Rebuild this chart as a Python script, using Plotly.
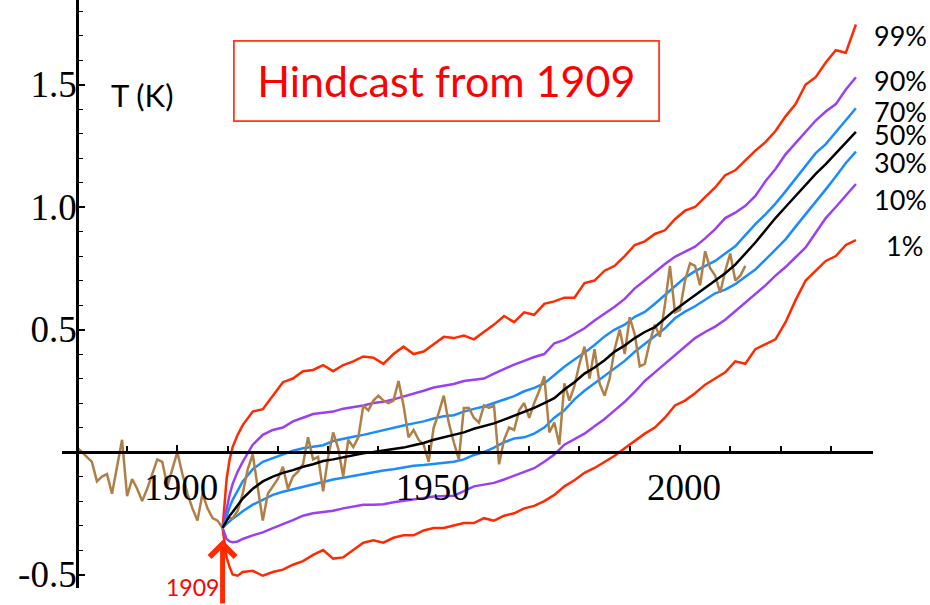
import plotly.graph_objects as go

# ---------------- data ----------------
obs_start = 1880
obs_values = [
    0.02, 0.00, -0.02, -0.04, -0.12, -0.10, -0.09, -0.17, -0.06, 0.05,
    -0.18, -0.11, -0.15, -0.20, -0.15, -0.09, -0.03, -0.04, -0.14, -0.07,
    0.00, -0.09, -0.17, -0.23, -0.28, -0.17, -0.23, -0.27, -0.28, -0.31,
    -0.27, -0.27, -0.24, -0.17, -0.07, -0.01, -0.15, -0.28, -0.17, -0.14,
    -0.11, -0.06, -0.15, -0.10, -0.08, -0.05, 0.06, -0.03, -0.02, -0.16,
    -0.02, 0.08, 0.015, -0.10, 0.05, 0.02, 0.06, 0.19, 0.17, 0.21,
    0.23, 0.21, 0.20, 0.21, 0.29, 0.19, 0.06, 0.09, 0.05, 0.03,
    -0.04, 0.10, 0.16, 0.23, 0.12, 0.04, -0.03, 0.18, 0.18, 0.14,
    0.12, 0.19, 0.18, 0.19, -0.05, 0.05, 0.10, 0.09, 0.17, 0.20,
    0.14, 0.20, 0.25, 0.31, 0.08, 0.12, 0.03, 0.28, 0.21, 0.27,
    0.36, 0.43, 0.30, 0.42, 0.28, 0.23, 0.30, 0.42, 0.50, 0.40,
    0.55, 0.48, 0.35, 0.36, 0.45, 0.52, 0.47, 0.60, 0.76, 0.57,
    0.58, 0.70, 0.77, 0.76, 0.68, 0.82, 0.75, 0.72, 0.65, 0.74,
    0.81, 0.70, 0.72, 0.76,
]
obs_years = list(range(obs_start, obs_start + len(obs_values)))

proj_years = [1909, 1909.4, 1909.8, 1910.4, 1911, 1912, 1913] + list(range(1915, 2036, 2))

p99 = [-0.31, -0.20, -0.11, -0.03, 0.02, 0.07, 0.11,
       0.165, 0.175, 0.23, 0.285, 0.30, 0.33, 0.335, 0.355, 0.33, 0.355,
       0.37, 0.39, 0.385, 0.36, 0.40, 0.43, 0.40, 0.41, 0.44, 0.47,
       0.465, 0.475, 0.46, 0.49, 0.52, 0.555, 0.53, 0.57, 0.56, 0.605,
       0.615, 0.63, 0.63, 0.69, 0.70, 0.74, 0.76, 0.80, 0.845, 0.86,
       0.89, 0.905, 0.95, 0.985, 1.00, 1.04, 1.08, 1.13, 1.15, 1.19,
       1.23, 1.265, 1.31, 1.37, 1.42, 1.50, 1.53, 1.59, 1.64, 1.63, 1.745]
p90 = [-0.31, -0.27, -0.23, -0.175, -0.13, -0.08, -0.04,
       0.03, 0.07, 0.09, 0.10, 0.125, 0.14, 0.155, 0.16, 0.165, 0.177,
       0.183, 0.19, 0.20, 0.205, 0.215, 0.226, 0.24, 0.25, 0.263, 0.27,
       0.278, 0.29, 0.296, 0.30, 0.32, 0.34, 0.357, 0.372, 0.388, 0.40,
       0.444, 0.458, 0.48, 0.505, 0.537, 0.565, 0.593, 0.625, 0.668, 0.70,
       0.735, 0.767, 0.797, 0.818, 0.838, 0.872, 0.91, 0.955, 0.977, 1.005,
       1.045, 1.105, 1.155, 1.215, 1.26, 1.305, 1.353, 1.39, 1.42, 1.48, 1.53]
p70 = [-0.31, -0.285, -0.26, -0.225, -0.195, -0.155, -0.12,
       -0.07, -0.04, -0.025, -0.01, 0.005, 0.015, 0.022, 0.028, 0.045, 0.055,
       0.062, 0.07, 0.08, 0.09, 0.098, 0.108, 0.117, 0.125, 0.137, 0.146,
       0.15, 0.165, 0.176, 0.186, 0.20, 0.213, 0.228, 0.248, 0.262, 0.28,
       0.314, 0.348, 0.378, 0.405, 0.437, 0.472, 0.50, 0.52, 0.552, 0.572,
       0.605, 0.64, 0.675, 0.712, 0.738, 0.76, 0.78, 0.81, 0.84, 0.885,
       0.93, 0.97, 1.014, 1.064, 1.115, 1.17, 1.22, 1.257, 1.305, 1.355, 1.403]
p50 = [-0.31, -0.295, -0.28, -0.26, -0.245, -0.215, -0.19,
       -0.15, -0.12, -0.10, -0.085, -0.074, -0.06, -0.05, -0.037, -0.03, -0.022,
       -0.012, -0.005, 0.0, 0.005, 0.01, 0.018, 0.028, 0.037, 0.05, 0.06,
       0.07, 0.08, 0.095, 0.105, 0.117, 0.132, 0.148, 0.165, 0.18, 0.20,
       0.22, 0.255, 0.285, 0.32, 0.345, 0.375, 0.41, 0.435, 0.465, 0.49,
       0.51, 0.545, 0.58, 0.61, 0.64, 0.67, 0.70, 0.73, 0.765, 0.81,
       0.855, 0.905, 0.955, 1.00, 1.045, 1.09, 1.135, 1.175, 1.22, 1.265, 1.307]
p30 = [-0.31, -0.30, -0.293, -0.283, -0.272, -0.258, -0.242,
       -0.215, -0.195, -0.175, -0.162, -0.152, -0.142, -0.13, -0.121, -0.112, -0.105,
       -0.097, -0.09, -0.082, -0.075, -0.07, -0.062, -0.056, -0.053, -0.048, -0.044,
       -0.04, -0.03, -0.012, 0.0, 0.018, 0.04, 0.055, 0.06, 0.075, 0.10,
       0.14, 0.17, 0.215, 0.25, 0.28, 0.31, 0.343, 0.372, 0.409, 0.44,
       0.472, 0.505, 0.546, 0.573, 0.595, 0.62, 0.648, 0.663, 0.685, 0.715,
       0.745, 0.785, 0.825, 0.868, 0.92, 0.97, 1.02, 1.072, 1.125, 1.18, 1.226]
p10 = [-0.31, -0.335, -0.355, -0.365, -0.368, -0.365, -0.355,
       -0.34, -0.328, -0.311, -0.296, -0.278, -0.26, -0.25, -0.245, -0.24, -0.23,
       -0.222, -0.215, -0.215, -0.213, -0.205, -0.20, -0.195, -0.188, -0.182, -0.18,
       -0.178, -0.16, -0.14, -0.133, -0.126, -0.112, -0.097, -0.08, -0.066, -0.04,
       -0.01, 0.03, 0.052, 0.075, 0.105, 0.135, 0.17, 0.205, 0.245, 0.29,
       0.325, 0.36, 0.395, 0.43, 0.465, 0.49, 0.512, 0.54, 0.575, 0.61,
       0.642, 0.68, 0.72, 0.755, 0.795, 0.835, 0.895, 0.955, 1.0, 1.048, 1.094]
p01 = [-0.31, -0.37, -0.43, -0.47, -0.50, -0.505, -0.49,
       -0.485, -0.505, -0.49, -0.48, -0.46, -0.445, -0.42, -0.40, -0.435, -0.43,
       -0.40, -0.37, -0.36, -0.37, -0.35, -0.34, -0.34, -0.32, -0.31, -0.31,
       -0.30, -0.29, -0.29, -0.27, -0.28, -0.26, -0.25, -0.23, -0.22, -0.20,
       -0.175, -0.14, -0.115, -0.085, -0.065, -0.04, -0.015, 0.015, 0.045, 0.075,
       0.10, 0.14, 0.19, 0.21, 0.24, 0.275, 0.30, 0.325, 0.37, 0.36,
       0.42, 0.44, 0.46, 0.53, 0.62, 0.70, 0.74, 0.78, 0.80, 0.845, 0.865]

curve_labels = ["99%", "90%", "70%", "50%", "30%", "10%", "1%"]
x_ticks = [1900, 1950, 2000]
y_ticks = [-0.5, 0.5, 1.0, 1.5]
y_ticktext = ["-0.5", "0.5", "1.0", "1.5"]
start_year = 1909

# ---------------- styles / layout constants ----------------
RED = "#ff2a00"
PURPLE = "#9a40f2"
BLUE = "#1a8cff"
BLACK = "#000000"
BROWN = "#b07f45"

X_RANGE = [1877.05, 2038.4]
Y_RANGE = [-0.555, 1.845]
LABEL_Y = [1.702, 1.518, 1.388, 1.294, 1.180, 1.029, 0.845]

fig = go.Figure()

series = [
    (p01, RED), (p99, RED), (p10, PURPLE), (p90, PURPLE),
    (p30, BLUE), (p70, BLUE),
]
for vals, col in series:
    fig.add_trace(go.Scatter(x=proj_years, y=vals, mode="lines",
                             line=dict(color=col, width=2.5), hoverinfo="skip"))
fig.add_trace(go.Scatter(x=obs_years, y=obs_values, mode="lines",
                         line=dict(color=BROWN, width=2.5), hoverinfo="skip"))
fig.add_trace(go.Scatter(x=proj_years, y=p50, mode="lines",
                         line=dict(color=BLACK, width=2.5), hoverinfo="skip"))

xpos = (0 - Y_RANGE[0]) / (Y_RANGE[1] - Y_RANGE[0])
ypos = (obs_start - X_RANGE[0]) / (X_RANGE[1] - X_RANGE[0])

serif = dict(family="Liberation Serif, Times New Roman, serif", size=37, color="black")
sans = "Lato, Open Sans, sans-serif"

fig.update_layout(
    width=930, height=605,
    margin=dict(l=62, r=57, t=0, b=17),
    paper_bgcolor="white", plot_bgcolor="white",
    showlegend=False,
    xaxis=dict(range=X_RANGE, showgrid=False, zeroline=False,
               showline=True, linecolor="black", linewidth=2.5,
               anchor="free", position=xpos,
               tickmode="array", tickvals=x_ticks, ticktext=[str(v) for v in x_ticks],
               ticks="inside", ticklen=6, tickwidth=1.5, tickcolor="black",
               tickfont=serif, ticklabelstandoff=2, ticklabelshift=4,
               minor=dict(ticks="inside", tick0=1880, dtick=10, ticklen=5,
                          tickwidth=1.5, tickcolor="black", showgrid=False)),
    yaxis=dict(range=Y_RANGE, showgrid=False, zeroline=False,
               showline=True, linecolor="black", linewidth=2.5,
               anchor="free", position=ypos,
               tickmode="array", tickvals=y_ticks, ticktext=y_ticktext,
               ticks="inside", ticklen=6, tickwidth=1.5, tickcolor="black",
               tickfont=serif, ticklabelstandoff=-8,
               minor=dict(ticks="inside", tick0=0, dtick=0.1, ticklen=4,
                          tickwidth=1.2, tickcolor="black", showgrid=False)),
)

ann = []
for lab, yv in zip(curve_labels, LABEL_Y):
    ann.append(dict(xref="paper", yref="y", x=1.0, y=yv, text=lab, showarrow=False,
                    xanchor="left", yanchor="middle", xshift=(12 if lab == "1%" else 0),
                    borderpad=0,
                    font=dict(family=sans, size=27, color="black")))
ann.append(dict(xref="x", yref="y", x=1893.0, y=1.457, text="T (K)", showarrow=False,
                xanchor="center", yanchor="middle",
                font=dict(family=sans, size=31, color="black")))
ann.append(dict(xref="x", yref="y", x=1953.6, y=1.514, text="Hindcast from " + str(start_year),
                showarrow=False, xanchor="center", yanchor="middle",
                width=401, height=56, borderpad=11,
                bordercolor="#ff3b1a", borderwidth=1.8,
                font=dict(family=sans, size=43, color="#ff0000")))
ann.append(dict(xref="x", yref="y", x=1903.0, y=-0.551, text=str(start_year), showarrow=False,
                xanchor="center", yanchor="middle",
                font=dict(family=sans, size=23, color="#ff0000")))
ann.append(dict(xref="x", yref="y", x=start_year, y=-0.359, text="", showarrow=True,
                ax=0, ay=70, arrowhead=4, arrowsize=1.0, arrowwidth=5, arrowcolor=RED))
fig.update_layout(annotations=ann)

fig.write_html("out.html")
